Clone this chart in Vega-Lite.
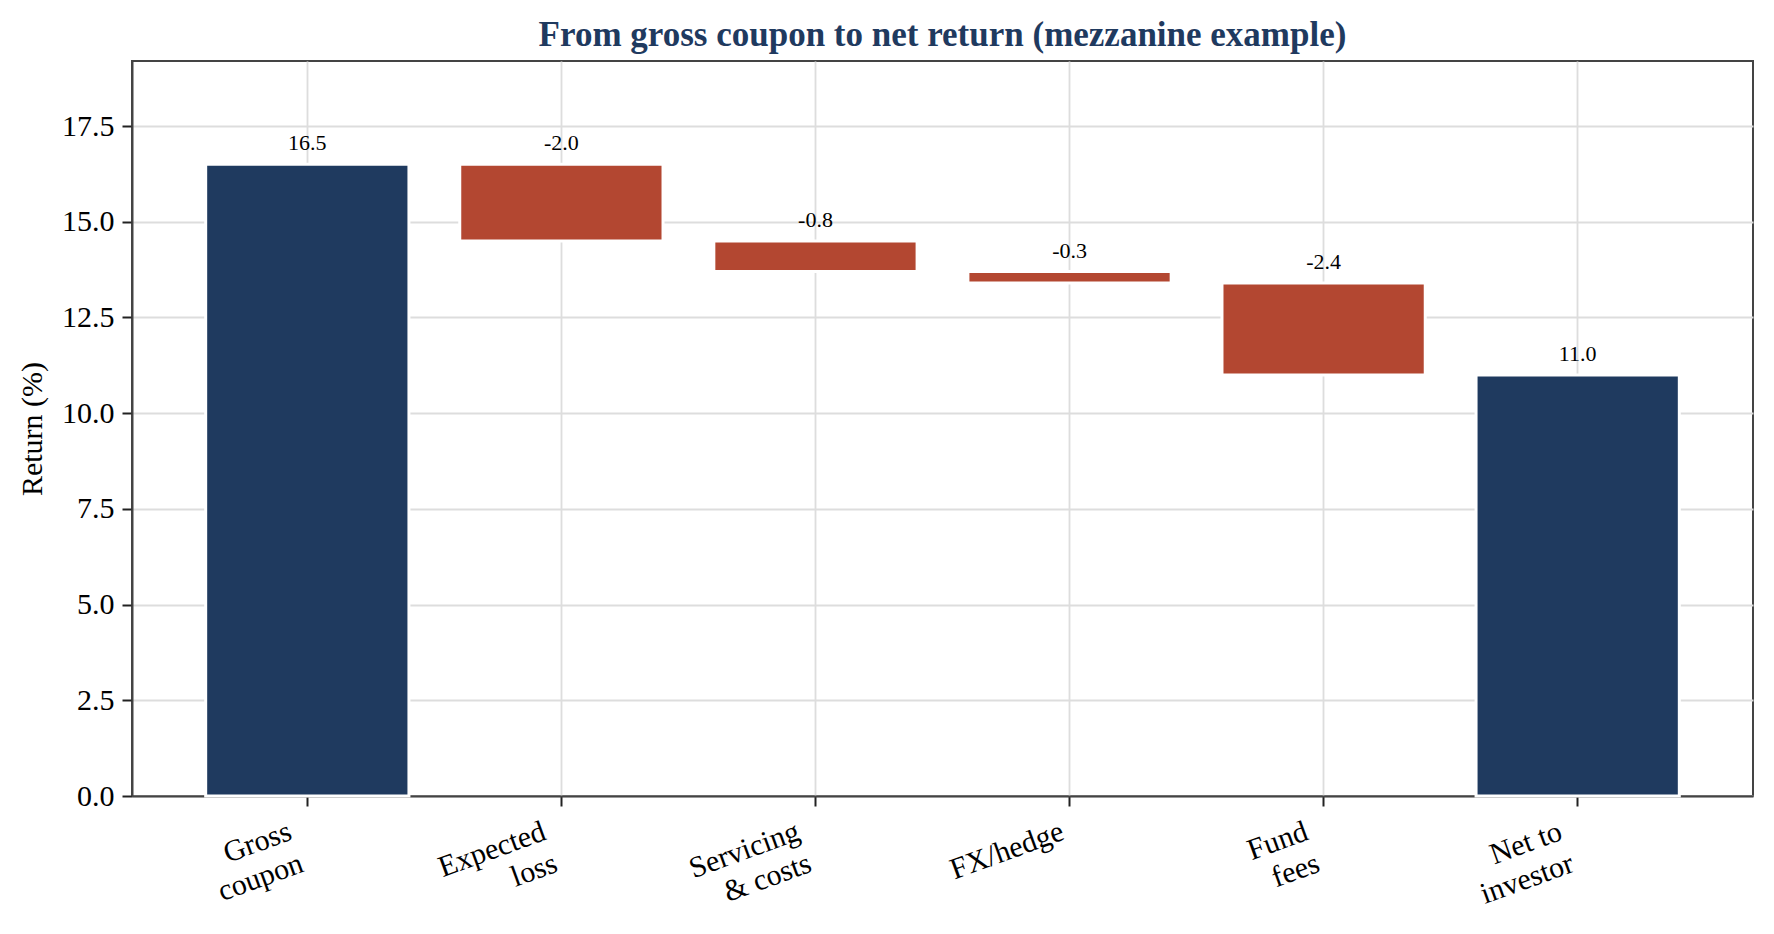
{
  "$schema": "https://vega.github.io/schema/vega-lite/v6.json",
  "autosize": {"type": "none"},
  "padding": {"left": 132, "top": 61, "right": 21, "bottom": 138},
  "width": 1621,
  "height": 735,
  "background": "white",
  "title": {
    "text": "From gross coupon to net return (mezzanine example)",
    "font": "Liberation Serif",
    "fontSize": 35,
    "fontWeight": "bold",
    "color": "#1f3a5f",
    "anchor": "middle",
    "offset": 8
  },
  "config": {
    "font": "Liberation Serif",
    "view": {"stroke": "#444444", "strokeWidth": 2},
    "locale": {
      "number": {
        "decimal": ".",
        "thousands": ",",
        "grouping": [3],
        "currency": ["$", ""],
        "minus": "-"
      }
    }
  },
  "data": {
    "values": [
      {"step": "Gross\ncoupon", "start": 0, "end": 16.5, "change": 16.5, "kind": "total"},
      {"step": "Expected\n loss", "start": 16.5, "end": 14.5, "change": -2.0, "kind": "delta"},
      {"step": "Servicing\n& costs", "start": 14.5, "end": 13.7, "change": -0.8, "kind": "delta"},
      {"step": "FX/hedge", "start": 13.7, "end": 13.4, "change": -0.3, "kind": "delta"},
      {"step": "Fund\nfees", "start": 13.4, "end": 11.0, "change": -2.4, "kind": "delta"},
      {"step": "Net to\ninvestor", "start": 0, "end": 11.0, "change": 11.0, "kind": "total"}
    ]
  },
  "transform": [
    {"calculate": "max(datum.start, datum.end)", "as": "top"}
  ],
  "encoding": {
    "x": {
      "field": "step",
      "type": "nominal",
      "sort": null,
      "scale": {"paddingInner": 0.2, "paddingOuter": 0.29},
      "axis": {
        "title": null,
        "bandPosition": 0.5,
        "grid": true,
        "gridColor": "#dddddd",
        "gridWidth": 1.8,
        "domainColor": "#444444",
        "domainWidth": 2,
        "tickColor": "#222222",
        "tickWidth": 2,
        "tickSize": 10,
        "labelFontSize": 30,
        "labelColor": "#000000",
        "labelAngle": -20,
        "labelAlign": "right",
        "labelBaseline": "top",
        "labelPadding": 10,
        "labelOffset": {"condition": {"test": "datum.value == 'FX/hedge'", "value": -12}, "value": -22},
        "labelLineHeight": 34,
        "labelExpr": "split(datum.label, '\\n')"
      }
    }
  },
  "layer": [
    {
      "mark": {"type": "bar", "stroke": "white", "strokeWidth": 3},
      "encoding": {
        "y": {
          "field": "start",
          "type": "quantitative",
          "scale": {"domain": [0, 19.2], "nice": false},
          "axis": {
            "title": "Return (%)",
            "titleFontSize": 30,
            "titleFontWeight": "normal",
            "titleColor": "#000000",
            "titlePadding": 14,
            "values": [0, 2.5, 5, 7.5, 10, 12.5, 15, 17.5],
            "format": ".1f",
            "grid": true,
            "gridColor": "#dddddd",
            "gridWidth": 1.8,
            "domainColor": "#444444",
            "domainWidth": 2,
            "tickColor": "#222222",
            "tickWidth": 2,
            "tickSize": 10,
            "labelFontSize": 30,
            "labelColor": "#000000",
            "labelPadding": 8
          }
        },
        "y2": {"field": "end"},
        "color": {
          "field": "kind",
          "type": "nominal",
          "scale": {"domain": ["total", "delta"], "range": ["#1f3a5f", "#b34731"]},
          "legend": null
        }
      }
    },
    {
      "mark": {"type": "text", "fontSize": 22, "color": "#000000", "baseline": "alphabetic", "dy": -14},
      "encoding": {
        "y": {"field": "top", "type": "quantitative"},
        "text": {"field": "change", "type": "quantitative", "format": ".1f"}
      }
    }
  ]
}
